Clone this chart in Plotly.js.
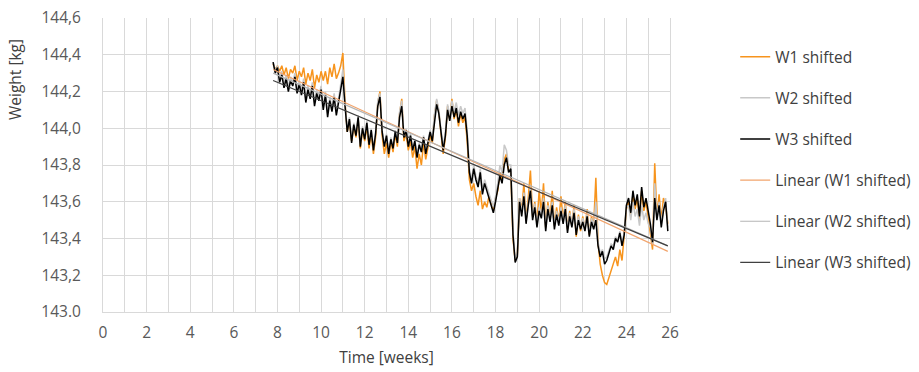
<!DOCTYPE html>
<html>
<head>
<meta charset="utf-8">
<script src="https://cdn.plot.ly/plotly-3.0.1.min.js"></script>
<style>html,body{margin:0;padding:0;background:#fff;}#chart{width:919px;height:372px;}</style>
</head>
<body>
<div id="chart"></div>
<script>
// Time grid of the measurements (weeks)
const weekStart = 7.8;
const weekStep = 0.1;

// W1 shifted (orange)
const w1Shifted = [
144.35,144.32,144.34,
144.31,144.34,144.29,144.33,144.27,144.32,144.30,144.34,144.26,144.31,
144.28,144.33,144.24,144.30,144.26,144.32,144.22,144.29,144.25,144.31,
144.26,144.31,144.24,144.33,144.28,144.35,144.27,144.30,144.34,144.41,
144.14,143.98,144.04,143.93,144.01,143.95,144.05,143.89,143.99,143.93,
144.01,143.89,143.97,143.86,143.95,144.14,144.20,143.96,143.86,143.92,
143.84,143.93,143.87,143.97,143.90,144.08,144.16,143.93,143.97,143.88,
143.93,143.84,143.90,143.78,143.86,143.80,143.92,143.83,143.90,143.96,
143.92,144.07,144.15,144.09,143.97,143.86,143.95,144.12,144.05,144.16,
144.05,144.10,144.01,144.08,144.03,144.06,143.93,143.72,143.66,143.70,
143.63,143.58,143.66,143.56,143.60,143.57,143.63,143.60,143.55,143.62,
143.66,143.76,143.72,143.83,143.86,143.77,143.76,143.40,143.28,143.31,
143.62,143.55,143.70,143.50,143.62,143.77,143.52,143.60,143.48,143.66,
143.54,143.70,143.46,143.60,143.51,143.66,143.47,143.57,143.49,143.63,
143.50,143.60,143.45,143.55,143.47,143.58,143.41,143.53,143.44,143.52,
143.45,143.56,143.42,143.52,143.47,143.73,143.38,143.26,143.20,143.16,
143.15,143.19,143.22,143.27,143.30,143.25,143.34,143.28,143.40,143.56,
143.60,143.52,143.64,143.56,143.62,143.50,143.66,143.55,143.60,143.52,
143.42,143.34,143.81,143.52,143.64,143.50,143.62,143.58,143.48
];

// W2 shifted (grey)
const w2Shifted = [
144.36,144.31,144.34,
144.27,144.31,144.24,144.29,144.22,144.28,144.25,144.30,144.21,144.26,
144.20,144.27,144.16,144.23,144.18,144.25,144.14,144.21,144.17,144.23,
144.12,144.20,144.08,144.17,144.11,144.19,144.09,144.16,144.23,144.32,
144.13,144.00,144.06,143.94,144.03,143.97,144.07,143.91,144.01,143.95,
144.04,143.92,144.00,143.89,143.98,144.15,144.19,143.99,143.91,143.97,
143.87,143.95,143.90,143.99,143.93,144.09,144.15,143.96,144.00,143.91,
143.97,143.89,143.94,143.85,143.92,143.88,143.96,143.87,143.93,143.99,
143.95,144.08,144.16,144.10,143.99,143.90,143.98,144.13,144.07,144.15,
144.09,144.14,144.07,144.12,144.08,144.11,143.99,143.78,143.72,143.80,
143.74,143.70,143.78,143.66,143.72,143.68,143.64,143.60,143.57,143.63,
143.70,143.80,143.76,143.91,143.88,143.80,143.80,143.44,143.29,143.32,
143.62,143.54,143.65,143.50,143.60,143.68,143.52,143.59,143.48,143.57,
143.53,143.62,143.46,143.58,143.51,143.60,143.47,143.55,143.49,143.57,
143.50,143.58,143.45,143.54,143.48,143.56,143.44,143.52,143.47,143.51,
143.46,143.54,143.43,143.51,143.47,143.60,143.38,143.32,143.34,143.29,
143.30,143.34,143.37,143.36,143.41,143.39,143.44,143.38,143.43,143.57,
143.58,143.50,143.60,143.52,143.56,143.47,143.58,143.50,143.54,143.48,
143.46,143.37,143.70,143.52,143.60,143.48,143.57,143.62,143.46
];

// W3 shifted (black)
const w3Shifted = [
144.36,144.30,144.33,
144.25,144.29,144.22,144.27,144.20,144.26,144.23,144.28,144.19,144.24,
144.18,144.25,144.14,144.21,144.16,144.23,144.12,144.19,144.15,144.21,
144.10,144.18,144.06,144.15,144.09,144.17,144.07,144.14,144.20,144.28,
144.12,143.98,144.05,143.92,144.02,143.96,144.06,143.90,144.00,143.94,
144.03,143.91,143.99,143.88,143.97,144.12,144.17,143.98,143.90,143.96,
143.86,143.94,143.89,143.98,143.92,144.06,144.12,143.95,143.99,143.90,
143.96,143.88,143.93,143.84,143.91,143.87,143.95,143.86,143.92,143.98,
143.93,144.05,144.13,144.08,143.98,143.88,143.96,144.10,144.04,144.12,
144.06,144.11,144.03,144.09,144.05,144.08,143.96,143.76,143.70,143.78,
143.72,143.68,143.76,143.64,143.70,143.66,143.62,143.58,143.54,143.60,
143.66,143.74,143.70,143.80,143.84,143.76,143.78,143.42,143.27,143.30,
143.60,143.52,143.63,143.48,143.58,143.66,143.50,143.57,143.46,143.55,
143.51,143.60,143.44,143.56,143.49,143.58,143.45,143.53,143.47,143.55,
143.48,143.56,143.43,143.52,143.46,143.54,143.42,143.50,143.45,143.49,
143.44,143.52,143.41,143.49,143.45,143.50,143.36,143.30,143.33,143.26,
143.28,143.32,143.36,143.34,143.40,143.38,143.43,143.36,143.42,143.58,
143.62,143.54,143.66,143.58,143.64,143.52,143.68,143.57,143.62,143.55,
143.48,143.38,143.62,143.50,143.58,143.46,143.55,143.60,143.44
];

// Linear trend lines (start / end of fitted line)
const trendWeeks = [7.8, 25.9];
const trendW1 = [144.32, 143.33];
const trendW2 = [144.30, 143.36];
const trendW3 = [144.26, 143.36];

// Axis ticks
const xTickVals = [0,2,4,6,8,10,12,14,16,18,20,22,24,26];
const yTickVals = [143.0,143.2,143.4,143.6,143.8,144.0,144.2,144.4,144.6];
const yTickText = ["143.0","143,2","143,4","143,6","143,8","144,0","144,2","144,4","144,6"];

const seriesNames = ["W1 shifted","W2 shifted","W3 shifted",
  "Linear (W1 shifted)","Linear (W2 shifted)","Linear (W3 shifted)"];
const xTitle = "Time [weeks]";
const yTitle = "Weight [kg]";

const weeks = w1Shifted.map((_, i) => +(weekStart + i * weekStep).toFixed(2));

const FONT = "'Open Sans', 'Liberation Sans', sans-serif";
const TXT = "#595959";
const FS = 15.5;

function dataTrace(name, y, color, width, grp) {
  return {x: weeks, y: y, type: "scatter", mode: "lines", name: name,
    legendgroup: grp, line: {color: color, width: width}, hoverinfo: "skip"};
}
function trendTrace(name, y, color, grp) {
  return {x: trendWeeks, y: y, type: "scatter", mode: "lines", name: name,
    legendgroup: grp, line: {color: color, width: 1.2}, hoverinfo: "skip"};
}

const traces = [
  dataTrace(seriesNames[0], w1Shifted, "#F7941D", 1.5, "a"),
  dataTrace(seriesNames[1], w2Shifted, "#C8C8C8", 1.5, "b"),
  dataTrace(seriesNames[2], w3Shifted, "#000000", 1.5, "c"),
  trendTrace(seriesNames[3], trendW1, "#F2A46C", "d"),
  trendTrace(seriesNames[4], trendW2, "#B4B4B4", "e"),
  trendTrace(seriesNames[5], trendW3, "#404040", "f")
];

const layout = {
  width: 919, height: 372,
  margin: {l: 103, r: 249, t: 18, b: 60, autoexpand: false},
  paper_bgcolor: "#ffffff", plot_bgcolor: "#ffffff",
  font: {family: FONT, color: TXT, size: FS},
  showlegend: true,
  legend: {x: 1.115, xanchor: "left", y: 0.925, yanchor: "top",
    font: {family: FONT, size: FS, color: "#404040"},
    tracegroupgap: 18, itemwidth: 30, bgcolor: "rgba(0,0,0,0)"},
  xaxis: {
    range: [0, 26], tickvals: xTickVals, ticktext: xTickVals.map(String),
    showgrid: true, gridcolor: "#D9D9D9", gridwidth: 1,
    minor: {dtick: 1, tick0: 0, showgrid: true, gridcolor: "#D9D9D9", gridwidth: 1},
    zeroline: false, showline: true, linecolor: "#D9D9D9",
    ticks: "", ticklabelstandoff: 6,
    tickfont: {family: FONT, size: FS, color: TXT},
    title: {text: xTitle, font: {family: FONT, size: FS, color: "#404040"}, standoff: 10}
  },
  yaxis: {
    range: [143.0, 144.6], tickvals: yTickVals, ticktext: yTickText,
    showgrid: true, gridcolor: "#D9D9D9", gridwidth: 1,
    zeroline: false, showline: true, linecolor: "#D9D9D9", mirror: true,
    ticks: "", ticklabelstandoff: 18,
    tickfont: {family: FONT, size: FS, color: TXT}
  },
  annotations: [{
    text: yTitle, xref: "paper", yref: "paper",
    x: -88 / 567, y: (312 - 80) / 294, xanchor: "center", yanchor: "middle",
    textangle: -90, showarrow: false,
    font: {family: FONT, size: FS, color: "#404040"}
  }]
};

Plotly.newPlot("chart", traces, layout, {staticPlot: true, displayModeBar: false});
</script>
</body>
</html>
